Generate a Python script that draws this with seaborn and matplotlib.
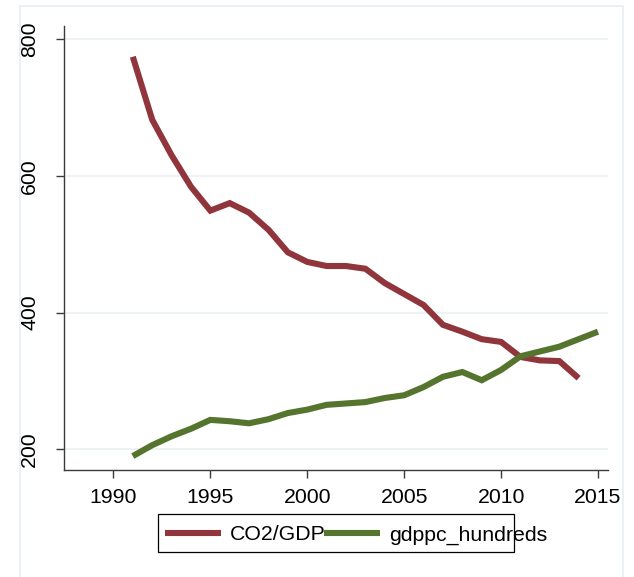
import matplotlib
matplotlib.use("Agg")
import matplotlib.pyplot as plt
import seaborn as sns
import pandas as pd
from matplotlib.patches import Rectangle

# Series
years_co2 = list(range(1991, 2015))
co2_gdp = [774, 682, 630, 584, 549, 560, 546, 521, 488, 474, 468, 468, 464, 443,
           427, 411, 382, 372, 361, 357, 335, 330, 329, 304]

years_gdp = list(range(1991, 2016))
gdppc_hundreds = [190, 206, 219, 230, 243, 241, 238, 244, 253, 258, 265, 267, 269,
                  275, 279, 291, 306, 313, 301, 316, 336, 343, 350, 361, 372]

x_ticks = [1990, 1995, 2000, 2005, 2010, 2015]
y_ticks = [200, 400, 600, 800]
series_labels = ["CO2/GDP", "gdppc_hundreds"]

sns.set_style("white")
plt.rcParams["font.family"] = ["Liberation Sans", "DejaVu Sans"]
plt.rcParams["text.color"] = "black"
plt.rcParams["xtick.color"] = "#3a3a3a"
plt.rcParams["ytick.color"] = "#3a3a3a"
plt.rcParams["xtick.labelcolor"] = "black"
plt.rcParams["ytick.labelcolor"] = "black"

maroon = "#90353b"
forest = "#55752f"
fs = 15.3

fig = plt.figure(figsize=(6.34, 5.77), dpi=100)
fig.patch.set_facecolor("white")

# outer plot-region frame
fig.patches.append(Rectangle((20 / 634, -0.05), (623 - 20) / 634, 1.05 - 6 / 577,
                             transform=fig.transFigure, fill=False,
                             edgecolor="#e6edf1", lw=1.2, zorder=0))

ax = fig.add_axes([64 / 634, 1 - 470 / 577, (607.7 - 64) / 634, (470 - 26) / 577])

df_co2 = pd.DataFrame({"year": years_co2, "value": co2_gdp})
df_gdp = pd.DataFrame({"year": years_gdp, "value": gdppc_hundreds})
sns.lineplot(data=df_co2, x="year", y="value", ax=ax, color=maroon, lw=4.4,
             label=series_labels[0], legend=False)
sns.lineplot(data=df_gdp, x="year", y="value", ax=ax, color=forest, lw=4.4,
             label=series_labels[1], legend=False)
for ln in ax.lines:
    ln.set_solid_capstyle("butt")
    ln.set_solid_joinstyle("miter")

ax.set_xlim(1987.45, 2015.5)
ax.set_ylim(169.7, 819)
ax.set_xticks(x_ticks)
ax.set_yticks(y_ticks)
ax.set_xlabel("")
ax.set_ylabel("")
ax.grid(axis="y", color="#eaf1f3", lw=1.2)
ax.grid(axis="x", visible=False)
for s in ["top", "right"]:
    ax.spines[s].set_visible(False)
for s in ["left", "bottom"]:
    ax.spines[s].set_color("#3a3a3a")
    ax.spines[s].set_linewidth(1.0)
ax.tick_params(axis="both", which="major", length=6, width=1.0,
               labelsize=fs, direction="out", bottom=True, left=True)
ax.tick_params(axis="x", pad=7)
ax.tick_params(axis="y", pad=12)
for lab in ax.get_yticklabels():
    lab.set_rotation(90)
    lab.set_va("center")

# legend with its own frame
handles, labels = ax.get_legend_handles_labels()
fig.legend(handles, labels, loc="center left", bbox_to_anchor=(165 / 634, 1 - 535 / 577),
           ncol=2, frameon=False, fontsize=fs, handlelength=2.65, handletextpad=0.42,
           columnspacing=-0.1, borderpad=0, borderaxespad=0)
fig.patches.append(Rectangle((158 / 634, 1 - 551.7 / 577), (514 - 158) / 634,
                             (551.7 - 514.3) / 577, transform=fig.transFigure,
                             fill=False, edgecolor="black", lw=0.9, zorder=5))

fig.savefig("out.png", dpi=100)
